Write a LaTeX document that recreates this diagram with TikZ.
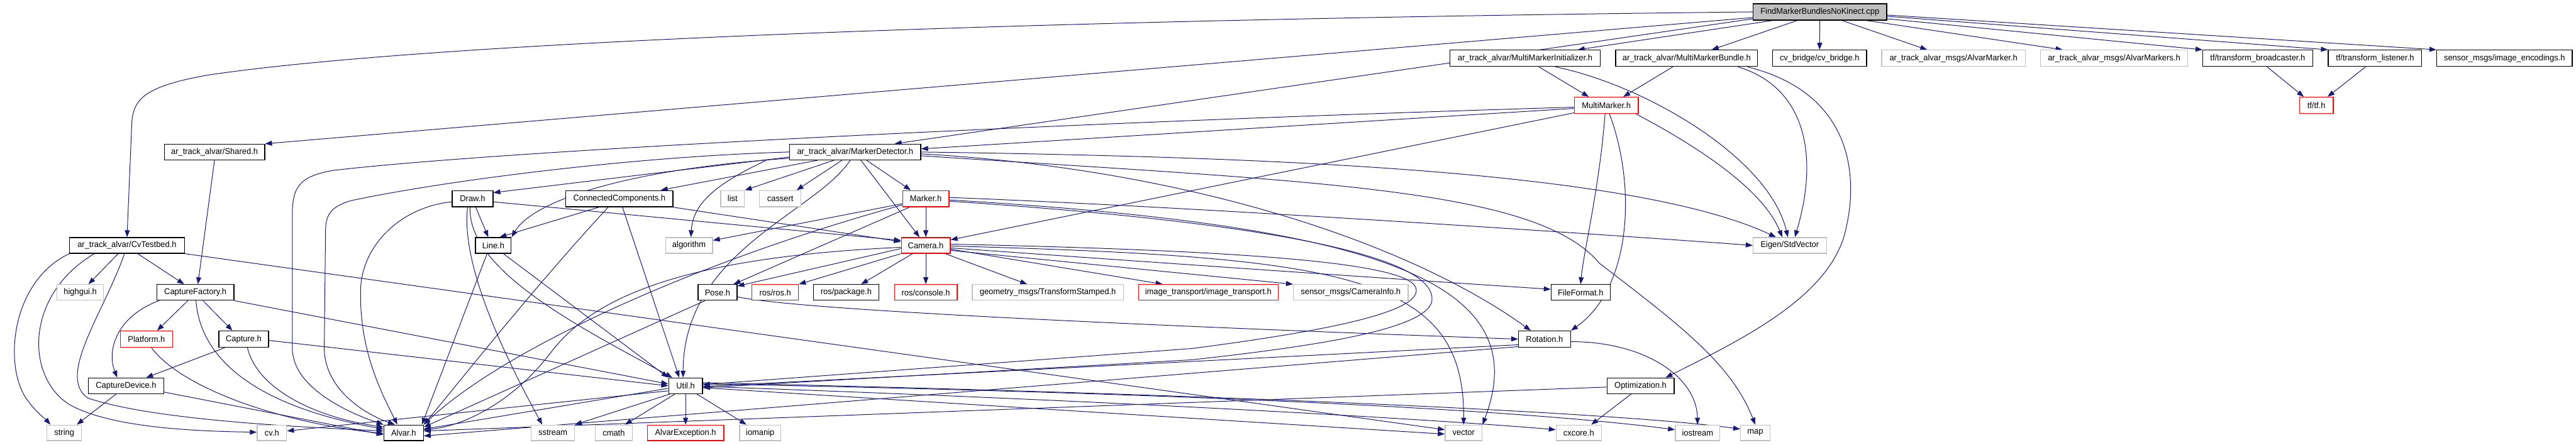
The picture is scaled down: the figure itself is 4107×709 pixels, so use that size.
\documentclass[tikz,border=0pt]{standalone}
\usepackage{fontspec}
\setmainfont{Liberation Sans}
\usetikzlibrary{arrows.meta,backgrounds}
\definecolor{edgecol}{HTML}{191970}
\definecolor{gry}{HTML}{BFBFBF}
\tikzset{
 nb/.style={draw=black, line width=1.3pt, fill=white, inner sep=0pt, font=\fontsize{13.5}{16}\selectfont},
 ngray/.style={nb, draw=gry},
 nred/.style={nb, draw=red},
 nroot/.style={nb, fill=gry},
 edge/.style={draw=edgecol, line width=1pt, -{Triangle[length=11pt,width=8pt]}},
}
\newcommand\nd[7]{\node[#1, minimum width={(#5-#3)*1pt}, minimum height={(#6-#4)*1pt}] (#2) at ({(#3+#5)/2},{(#4+#6)/2}) {\scalebox{0.96}[1]{#7}};}
\begin{document}
\begin{tikzpicture}[x=1pt,y=-1pt]
\useasboundingbox (0,0) rectangle (4107,709);
% row 0
\nd{nroot}{F}{2795}{6}{3008}{32}{FindMarkerBundlesNoKinect.cpp}
% row 1
\nd{nb}{mmi}{2312}{80}{2551}{106}{ar\_track\_alvar/MultiMarkerInitializer.h}
\nd{nb}{mmb}{2576}{80}{2802}{106}{ar\_track\_alvar/MultiMarkerBundle.h}
\nd{nb}{cvb}{2826}{80}{2976}{106}{cv\_bridge/cv\_bridge.h}
\nd{ngray}{am}{3000}{80}{3229}{106}{ar\_track\_alvar\_msgs/AlvarMarker.h}
\nd{ngray}{ams}{3253}{80}{3488}{106}{ar\_track\_alvar\_msgs/AlvarMarkers.h}
\nd{nb}{tfb}{3512}{80}{3687}{106}{tf/transform\_broadcaster.h}
\nd{nb}{tfl}{3712}{80}{3861}{106}{tf/transform\_listener.h}
\nd{nb}{ie}{3885}{80}{4101}{106}{sensor\_msgs/image\_encodings.h}
% row 2
\nd{nred}{mm}{2510}{155}{2612}{181}{MultiMarker.h}
\nd{nred}{tf}{3666}{155}{3720}{181}{tf/tf.h}
% row 3
\nd{nb}{sh}{262}{230}{422}{255}{ar\_track\_alvar/Shared.h}
\nd{nb}{md}{1259}{230}{1468}{255}{ar\_track\_alvar/MarkerDetector.h}
% row 4
\nd{nb}{draw}{721}{304}{786}{330}{Draw.h}
\nd{nb}{cc}{902}{304}{1073}{330}{ConnectedComponents.h}
\nd{ngray}{list}{1149}{304}{1187}{330}{list}
\nd{ngray}{cassert}{1211}{304}{1277}{330}{cassert}
\nd{nred}{marker}{1439}{304}{1513}{330}{Marker.h}
% row 5
\nd{nb}{cvt}{111}{379}{294}{404}{ar\_track\_alvar/CvTestbed.h}
\nd{nb}{line}{758}{379}{815}{404}{Line.h}
\nd{ngray}{alg}{1061}{379}{1136}{404}{algorithm}
\nd{nred}{cam}{1437}{379}{1515}{404}{Camera.h}
\nd{ngray}{eig}{2795}{379}{2912}{404}{Eigen/StdVector}
% row 6
\nd{ngray}{hg}{91}{454}{165}{479}{highgui.h}
\nd{nb}{cf}{250}{454}{373}{479}{CaptureFactory.h}
\nd{nb}{pose}{1113}{454}{1175}{479}{Pose.h}
\nd{nred}{rosros}{1199}{454}{1273}{479}{ros/ros.h}
\nd{nb}{rospkg}{1297}{454}{1401}{479}{ros/package.h}
\nd{nred}{roscon}{1426}{454}{1526}{479}{ros/console.h}
\nd{ngray}{geo}{1550}{454}{1791}{479}{geometry\_msgs/TransformStamped.h}
\nd{nred}{it}{1815}{454}{2038}{479}{image\_transport/image\_transport.h}
\nd{ngray}{ci}{2062}{454}{2245}{479}{sensor\_msgs/CameraInfo.h}
\nd{nb}{ff}{2473}{454}{2567}{479}{FileFormat.h}
% row 7
\nd{nred}{plat}{192}{528}{275}{554}{Platform.h}
\nd{nb}{cap}{349}{528}{428}{554}{Capture.h}
\nd{nb}{rot}{2421}{528}{2504}{554}{Rotation.h}
% row 8
\nd{nb}{cd}{141}{603}{261}{628}{CaptureDevice.h}
\nd{nb}{util}{1066}{603}{1120}{628}{Util.h}
\nd{nb}{opt}{2562}{603}{2669}{628}{Optimization.h}
% row 9
\nd{ngray}{str}{75}{678}{130}{703}{string}
\nd{ngray}{cvh}{410}{678}{457}{703}{cv.h}
\nd{nb}{alvar}{612}{678}{675}{703}{Alvar.h}
\nd{ngray}{sst}{847}{678}{916}{703}{sstream}
\nd{ngray}{cmath}{949}{678}{1008}{703}{cmath}
\nd{nred}{ae}{1032}{678}{1154}{703}{AlvarException.h}
\nd{ngray}{iom}{1179}{678}{1245}{703}{iomanip}
\nd{ngray}{vec}{2304}{678}{2363}{703}{vector}
\nd{ngray}{cx}{2481}{678}{2553}{703}{cxcore.h}
\nd{ngray}{ios}{2671}{678}{2742}{703}{iostream}
\nd{ngray}{map}{2775}{678}{2822}{703}{map}

\begin{pgfonlayer}{background}
% root
\draw[edge] (F.west) .. controls (1500,33) and (650,72) .. (330,120) .. controls (230,138) and (211,158) .. (210,200) -- (cvt.north);
\draw[edge] ([yshift=-9pt]F.west) -- (sh.north east);
\draw[edge] ([yshift=-11pt]F.west) -- ([xshift=63pt]md.north);
\draw[edge] ([xshift=-75pt]F.south) -- ([xshift=84pt]mmi.north);
\draw[edge] ([xshift=-36pt]F.south) -- ([xshift=40pt]mmb.north);
\draw[edge] (F.south) -- (cvb.north);
\draw[edge] ([xshift=35pt]F.south) -- ([xshift=-42pt]am.north);
\draw[edge] ([xshift=74pt]F.south) -- ([xshift=-82pt]ams.north);
\draw[edge] ([yshift=-11pt]F.east) -- (tfb.north west);
\draw[edge] ([yshift=-7pt]F.east) -- (tfl.north west);
\draw[edge] ([yshift=-5pt]F.east) -- (ie.north west);
% second level
\draw[edge] (sh.south) -- ([xshift=4pt]cf.north);
\draw[edge] ([xshift=22pt]mmi.south) -- ([xshift=-28pt]mm.north);
\draw[edge] ([xshift=-22pt]mmb.south) -- ([xshift=27pt]mm.north);
\draw[edge] ([xshift=15pt]tfb.south) -- ([xshift=-20pt]tf.north);
\draw[edge] ([xshift=-15pt]tfl.south) -- ([xshift=18pt]tf.north);
\draw[edge] ([xshift=48pt]mmi.south) .. controls (2620,135) and (2820,250) .. ([xshift=-3pt]eig.north);
\draw[edge] ([xshift=82pt]mmb.south) .. controls (2880,140) and (2900,250) .. ([xshift=8pt]eig.north);
\draw[edge] ([xshift=97pt]mmb.south) .. controls (2960,150) and (2960,290) .. (2944,360) .. controls (2925,470) and (2780,540) .. ([xshift=40pt]opt.north);
% MultiMarker
\draw[edge] ([yshift=-5pt]mm.west) -- ([yshift=5pt]md.east);
\draw[edge] ([yshift=-3pt]mm.west) .. controls (1700,195) and (800,240) .. (530,272) .. controls (475,282) and (466,300) .. (466,345) -- (466,555) .. controls (466,620) and (560,660) .. (alvar.north west);
\draw[edge] ([yshift=-12pt]mm.west) -- ([yshift=9pt]cam.east);
\draw[edge] ([xshift=-2pt]mm.south) .. controls (2550,300) and (2525,400) .. (ff.north);
\draw[edge] ([xshift=5pt]mm.south) .. controls (2610,300) and (2600,460) .. (rot.north east);
\draw[edge] ([xshift=47pt]mm.south) .. controls (2700,230) and (2810,300) .. ([xshift=-12pt]eig.north);
% MarkerDetector
\draw[edge] ([yshift=-8pt]md.west) -- ([yshift=-4pt]draw.north east);
\draw[edge] ([xshift=-60pt]md.south) -- ([xshift=66pt]cc.north);
\draw[edge] ([xshift=-34pt]md.south) -- (list.north east);
\draw[edge] ([xshift=-21pt]md.south) -- ([xshift=26pt]cassert.north);
\draw[edge] ([xshift=18pt]md.south) -- ([xshift=-24pt]marker.north);
\draw[edge] ([xshift=9pt]md.south) -- ([xshift=-10pt]cam.north);
\draw[edge] (md.west) .. controls (1000,250) and (700,290) .. (560,320) .. controls (525,330) and (519,345) .. (519,370) -- (517,555) .. controls (517,620) and (580,660) .. ([xshift=-14pt]alvar.north);
\draw[edge] ([yshift=-10pt]md.west) .. controls (1000,270) and (850,320) .. (line.north east);
\draw[edge] ([xshift=-142pt]md.south) .. controls (1150,290) and (1105,320) .. ([xshift=3pt]alg.north);
\draw[edge] ([xshift=-8pt]md.south) .. controls (1300,340) and (1090,400) .. ([xshift=-4pt]util.north);
\draw[edge] ([yshift=-3pt]md.east) .. controls (1900,270) and (2250,390) .. ([xshift=-22pt]rot.north);
\draw[edge] (md.east) .. controls (2000,250) and (2600,270) .. ([xshift=-22pt]eig.north);
\draw[edge] ([yshift=-6pt]md.east) .. controls (2100,290) and (2450,300) .. (2550,420) .. controls (2680,520) and (2760,580) .. (map.north);
% Marker
\draw[edge] (marker.south) -- (cam.north);
\draw[edge] ([yshift=-8pt]marker.west) -- ([yshift=8pt]alg.east);
\draw[edge] ([yshift=-10pt]marker.west) .. controls (1100,420) and (800,560) .. (alvar.north east);
\draw[edge] ([xshift=-26pt]marker.south) -- ([xshift=-6pt]pose.north east);
\draw[edge] ([yshift=2pt]marker.east) .. controls (1900,330) and (2500,370) .. (eig.west);
\draw[edge] ([yshift=-2pt]marker.east) .. controls (2200,360) and (2450,450) .. (vec.north east);
\draw[edge] ([yshift=-4pt]marker.east) .. controls (2100,360) and (2290,420) .. (2283,480) .. controls (2275,525) and (2100,552) .. (1900,574) -- ([yshift=-3pt]util.east);
% Camera
\draw[edge] ([yshift=-5pt]cam.west) -- ([yshift=-3pt]pose.north east);
\draw[edge] (cam.south west) -- (rosros.north east);
\draw[edge] ([xshift=-21pt]cam.south) -- ([xshift=24pt]rospkg.north);
\draw[edge] (cam.south) -- (roscon.north);
\draw[edge] ([xshift=31pt]cam.south) -- ([xshift=-33pt]geo.north);
\draw[edge] ([yshift=-6pt]cam.east) -- ([xshift=-73pt]it.north);
\draw[edge] ([yshift=-8pt]cam.east) -- (ci.north west);
\draw[edge] ([yshift=-4pt]cam.east) .. controls (2000,430) and (2300,450) .. ([yshift=5pt]ff.west);
\draw[edge] ([yshift=-1pt]cam.east) .. controls (2150,410) and (2335,440) .. (vec.north);
\draw[edge] ([yshift=2pt]cam.east) .. controls (2000,400) and (2255,420) .. (2258,462) .. controls (2262,500) and (2100,530) .. (1900,556) -- ([yshift=2pt]util.east);
\draw[edge] ([yshift=-3pt]cam.west) .. controls (1100,410) and (950,470) .. (880,560) .. controls (820,640) and (740,680) .. ([yshift=5pt]alvar.east);
% Pose, Rotation
\draw[edge] ([yshift=-7pt]pose.east) .. controls (1260,492) and (1700,515) .. (rot.west);
\draw[edge] ([xshift=-20pt]pose.south) -- ([yshift=-4pt]alvar.north east);
\draw[edge] ([yshift=-9pt]rot.west) -- ([yshift=-1pt]util.east);
\draw[edge] ([yshift=-12pt]rot.west) -- ([yshift=-5pt]alvar.east);
\draw[edge] ([yshift=-4pt]rot.east) .. controls (2620,545) and (2705,600) .. (ios.north);
% Util
\draw[edge] ([yshift=-4pt]util.west) -- ([yshift=6pt]alvar.east);
\draw[edge] ([yshift=-8pt]util.west) -- ([yshift=3pt]cvh.east);
\draw[edge] ([xshift=-25pt]util.south) -- (sst.north east);
\draw[edge] ([xshift=-17pt]util.south) -- ([xshift=18pt]cmath.north);
\draw[edge] (util.south) -- (ae.north);
\draw[edge] ([xshift=18pt]util.south) -- ([xshift=-22pt]iom.north);
\draw[edge] ([yshift=-3pt]util.east) -- ([yshift=-2pt]vec.west);
\draw[edge] ([yshift=-1pt]util.east) .. controls (1800,640) and (2300,670) .. ([yshift=5pt]cx.west);
\draw[edge] ([yshift=3pt]util.east) .. controls (1800,625) and (2400,650) .. ([yshift=5pt]ios.west);
\draw[edge] ([yshift=5pt]util.east) .. controls (2000,630) and (2600,660) .. ([yshift=6pt]map.west);
% Optimization
\draw[edge] ([xshift=-15pt]opt.south) -- ([xshift=20pt]cx.north);
\draw[edge] ([yshift=-2pt]opt.west) -- ([yshift=3pt]alvar.east);
% CvTestbed
\draw[edge] ([xshift=-14pt]cvt.south) -- ([xshift=13pt]hg.north);
\draw[edge] ([xshift=17pt]cvt.south) -- ([xshift=-18pt]cf.north);
\draw[edge] ([xshift=-92pt]cvt.south) .. controls (15,450) and (5,590) .. (45,640) .. controls (60,660) and (72,668) .. ([xshift=-22pt]str.north);
\draw[edge] ([xshift=-52pt]cvt.south) .. controls (40,470) and (40,600) .. (110,645) .. controls (180,685) and (330,688) .. ([yshift=1pt]cvh.west);
\draw[edge] ([xshift=-4pt]cvt.south) .. controls (165,500) and (90,600) .. (140,635) .. controls (250,672) and (500,682) .. ([yshift=3pt]alvar.west);
\draw[edge] (cvt.south east) -- ([yshift=5pt]vec.west);
% CaptureFactory etc.
\draw[edge] ([xshift=-12pt]cf.south) -- ([xshift=17pt]plat.north);
\draw[edge] ([xshift=12pt]cf.south) -- ([xshift=-18pt]cap.north);
\draw[edge] ([xshift=-58pt]cf.south) .. controls (185,505) and (170,560) .. ([xshift=-14pt]cd.north);
\draw[edge] ([xshift=1pt]cf.south) .. controls (320,580) and (420,650) .. ([yshift=6pt]alvar.west);
\draw[edge] (cf.south east) -- ([yshift=3pt]util.west);
\draw[edge] ([xshift=-30pt]cap.south) -- ([xshift=32pt]cd.north);
\draw[edge] ([xshift=6pt]cap.south) .. controls (410,620) and (500,665) .. ([yshift=-4pt]alvar.north west);
\draw[edge] ([yshift=-2pt]cap.east) -- (util.west);
\draw[edge] ([xshift=-16pt]cd.south) -- ([xshift=20pt]str.north);
\draw[edge] ([yshift=-10pt]cd.east) -- ([yshift=-3pt]alvar.west);
\draw[edge] ([xshift=8pt]plat.south) .. controls (290,620) and (450,675) .. ([yshift=-1pt]alvar.west);
% Draw, CC, Line
\draw[edge] ([xshift=5pt]draw.south) -- ([xshift=-8pt]line.north);
\draw[edge] ([xshift=-8pt]draw.south) .. controls (735,420) and (800,560) .. ([xshift=-17pt]sst.north);
\draw[edge] ([xshift=-4pt]draw.south) .. controls (745,430) and (920,520) .. ([xshift=-21pt]util.north);
\draw[edge] ([yshift=-5pt]draw.west) .. controls (640,330) and (578,390) .. (575,460) .. controls (572,560) and (610,630) .. ([xshift=-10pt]alvar.north);
\draw[edge] ([yshift=-5pt]draw.east) -- ([yshift=8pt]cam.west);
\draw[edge] ([xshift=-33pt]cc.south) -- ([xshift=10pt]line.north);
\draw[edge] ([xshift=5pt]cc.south) -- ([xshift=-10pt]util.north);
\draw[edge] ([xshift=-18pt]cc.south) .. controls (850,460) and (740,600) .. (alvar.north east);
\draw[edge] (cc.south east) -- ([yshift=6pt]cam.west);
\draw[edge] ([xshift=16pt]line.south) -- (util.north west);
\draw[edge] ([xshift=-10pt]line.south) -- ([xshift=-3pt]alvar.north east);
\end{pgfonlayer}
\end{tikzpicture}
\end{document}
